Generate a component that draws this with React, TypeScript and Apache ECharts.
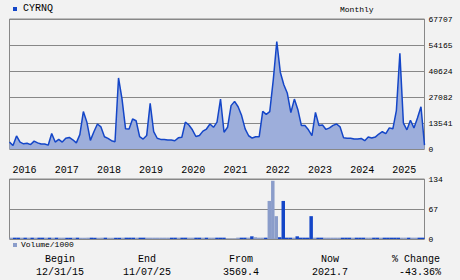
import React, { useEffect, useRef } from "react";
import * as echarts from "echarts";

// Monthly categories Jan 2016 .. Nov 2025
const months: string[] = [];
for (let y = 2016; y <= 2025; y++) {
  for (let m = 1; m <= 12; m++) {
    if (y === 2025 && m > 11) break;
    months.push(`${y}-${String(m).padStart(2, "0")}`);
  }
}

const priceValues: number[] = [
  3569, 1800, 6800, 3600, 2700, 3000, 2300, 4100, 3200, 2600, 2600, 2000,
  8100, 3600, 5000, 3600, 5600, 6000, 4800, 3200, 7500, 19500, 14000, 4500,
  9000, 13000, 11500, 6400, 5500, 4300, 3800, 37000, 26000, 10500, 10400, 15600,
  14700, 6400, 5200, 7000, 23800, 9000, 5600, 5000, 5000, 4700, 4700, 4300,
  5800, 6100, 14000, 12500, 10000, 6500, 7000, 9300, 10400, 13000, 11300, 14000,
  26000, 8700, 11300, 22600, 24800, 22000, 17400, 10500, 6900, 5700, 6400, 6400,
  19600, 18000, 19500, 36000, 56000, 40000, 33500, 29000, 19000, 26000, 20500, 12200,
  12200, 10000, 7000, 19100, 12200, 12500, 10200, 11000, 12300, 13000, 11500, 5800,
  5600, 5600, 5200, 5200, 5500, 4300, 6200, 5700, 6200, 7800, 9000, 8000,
  11000, 10500, 20000, 49800, 13500, 10000, 15000, 11000, 16100, 22000, 2022,
];

const volumeValues: number[] = [
  3, 3, 3, 3, 3, 3, 3, 3, 3, 3, 3, 3,
  3, 3, 3, 3, 3, 3, 3, 3, 3, 3, 3, 3,
  3, 3, 3, 3, 3, 3, 3, 3, 3, 3, 3, 3,
  3, 3, 3, 3, 3, 3, 3, 3, 3, 3, 3, 3,
  3, 3, 3, 3, 3, 3, 3, 3, 3, 3, 3, 3,
  3, 3, 1, 1, 1, 3, 3, 3, 3, 6, 4, 3,
  3, 3, 85, 130, 51, 4, 85, 3, 3, 3, 6, 3,
  3, 3, 51, 3, 3, 3, 3, 3, 3, 3, 3, 3,
  3, 3, 3, 3, 3, 3, 3, 3, 3, 3, 3, 3,
  3, 3, 3, 3, 3, 3, 3, 3, 3, 3, 3,
];

// 1 = dark blue bar, 0 = grey-blue bar
const volumeKind: number[] = [
  0, 1, 1, 0, 1, 0, 1, 0, 1, 1, 0, 1,
  0, 1, 0, 0, 1, 1, 0, 1, 0, 0, 0, 1,
  1, 0, 0, 1, 0, 0, 1, 1, 0, 1, 1, 1,
  0, 1, 1, 0, 0, 0, 0, 0, 0, 0, 1, 1,
  0, 1, 1, 0, 0, 1, 1, 0, 1, 0, 0, 1,
  1, 1, 0, 0, 0, 0, 1, 1, 0, 1, 0, 0,
  0, 1, 0, 0, 0, 1, 1, 1, 1, 0, 1, 1,
  1, 1, 1, 0, 1, 1, 0, 0, 0, 0, 0, 1,
  1, 1, 0, 1, 1, 1, 0, 0, 1, 1, 0, 1,
  1, 1, 1, 1, 0, 0, 1, 0, 0, 1, 1,
];

const priceTicks: number[] = [0, 13541, 27082, 40624, 54165, 67707];
const volumeTicks: number[] = [0, 67, 134];

const symbolName = "CYRNQ";
const periodLabel = "Monthly";
const volumeLabel = "Volume/1000";
const summaryHeaders: string[] = ["Begin", "End", "From", "Now", "% Change"];
const summaryValues: string[] = ["12/31/15", "11/07/25", "3569.4", "2021.7", "-43.36%"];

const MONO = "Liberation Mono";
const BLUE = "#1446c8";
const GREY_BLUE = "#8b9dca";
const AREA = "#9daedb";
const GRID = "#888888";

export default function App() {
  const ref = useRef<HTMLDivElement>(null);
  useEffect(() => {
    if (!ref.current) return;
    const chart = echarts.init(ref.current, undefined, { renderer: "svg" });
    const pMax = priceTicks[priceTicks.length - 1];
    const vMax = volumeTicks[volumeTicks.length - 1];
    const summaryX = [60, 147, 241, 330, 416];
    chart.setOption({
      animation: false,
      backgroundColor: "#f2f2f2",
      grid: [
        { left: 9.5, top: 19, width: 415, height: 130, show: true, borderColor: GRID, borderWidth: 1, backgroundColor: "transparent" },
        { left: 9.5, top: 179, width: 415, height: 60, show: true, borderColor: GRID, borderWidth: 1, backgroundColor: "transparent" },
      ],
      xAxis: [
        {
          type: "category",
          gridIndex: 0,
          data: months,
          boundaryGap: false,
          axisLine: { show: false },
          axisTick: { show: false },
          splitLine: { show: false },
          axisLabel: {
            interval: (_i: number, v: string) => v.endsWith("-01"),
            formatter: (v: string) => v.slice(0, 4),
            align: "left",
            padding: [0, 0, 0, 3],
            margin: 16,
            color: "#000",
            fontFamily: MONO,
            fontSize: 10,
          },
        },
        {
          type: "category",
          gridIndex: 1,
          data: months,
          boundaryGap: true,
          axisLine: { show: false },
          axisTick: { show: false },
          axisLabel: { show: false },
          splitLine: { show: false },
        },
      ],
      yAxis: [
        {
          type: "value",
          gridIndex: 0,
          position: "right",
          min: 0,
          max: pMax,
          interval: pMax / (priceTicks.length - 1),
          axisLine: { show: false },
          axisTick: { show: false },
          splitLine: { show: true, lineStyle: { color: GRID, width: 1 } },
          axisLabel: {
            margin: 4,
            padding: [4, 0, 0, 0],
            color: "#000",
            fontFamily: MONO,
            fontSize: 8,
            formatter: (v: number) => {
              let best = priceTicks[0];
              for (const t of priceTicks) if (Math.abs(t - v) < Math.abs(best - v)) best = t;
              return String(best);
            },
          },
        },
        {
          type: "value",
          gridIndex: 1,
          position: "right",
          min: 0,
          max: vMax,
          interval: vMax / (volumeTicks.length - 1),
          axisLine: { show: false },
          axisTick: { show: false },
          splitLine: { show: true, lineStyle: { color: GRID, width: 1 } },
          axisLabel: {
            margin: 4,
            padding: [5, 0, 0, 0],
            color: "#000",
            fontFamily: MONO,
            fontSize: 8,
            formatter: (v: number) => {
              let best = volumeTicks[0];
              for (const t of volumeTicks) if (Math.abs(t - v) < Math.abs(best - v)) best = t;
              return String(best);
            },
          },
        },
      ],
      series: [
        {
          type: "line",
          name: symbolName,
          xAxisIndex: 0,
          yAxisIndex: 0,
          data: priceValues,
          symbol: "none",
          lineStyle: { color: BLUE, width: 1.5 },
          areaStyle: { color: AREA, opacity: 1 },
          z: 3,
        },
        {
          type: "bar",
          name: volumeLabel,
          xAxisIndex: 1,
          yAxisIndex: 1,
          barCategoryGap: "0%",
          data: volumeValues.map((v, i) => ({
            value: v,
            itemStyle: { color: volumeKind[i] ? BLUE : GREY_BLUE },
          })),
          z: 3,
        },
      ],
      graphic: [
        { type: "rect", left: 13, top: 7, shape: { width: 4, height: 4 }, style: { fill: BLUE } },
        { type: "text", left: 23, top: 3, style: { text: symbolName, font: `10px "${MONO}"`, fill: "#000" } },
        { type: "text", left: 340, top: 5, style: { text: periodLabel, font: `8px "${MONO}"`, fill: "#000" } },
        { type: "rect", left: 13, top: 243, shape: { width: 4, height: 4 }, style: { fill: GREY_BLUE } },
        { type: "text", left: 21, top: 240, style: { text: volumeLabel, font: `8px "${MONO}"`, fill: "#000" } },
        ...summaryHeaders.map((h, i) => ({
          type: "text",
          x: summaryX[i],
          y: 259,
          style: { text: h, font: `10px "${MONO}"`, fill: "#000", textAlign: "center", textVerticalAlign: "middle" },
        })),
        ...summaryValues.map((h, i) => ({
          type: "text",
          x: summaryX[i] + (i === 4 ? 4 : 0),
          y: 272,
          style: { text: h, font: `10px "${MONO}"`, fill: "#000", textAlign: "center", textVerticalAlign: "middle" },
        })),
      ],
    });
    return () => chart.dispose();
  }, []);
  return (
    <div
      ref={ref}
      style={{ position: "fixed", left: 0, top: 0, width: 460, height: 280 }}
    />
  );
}
